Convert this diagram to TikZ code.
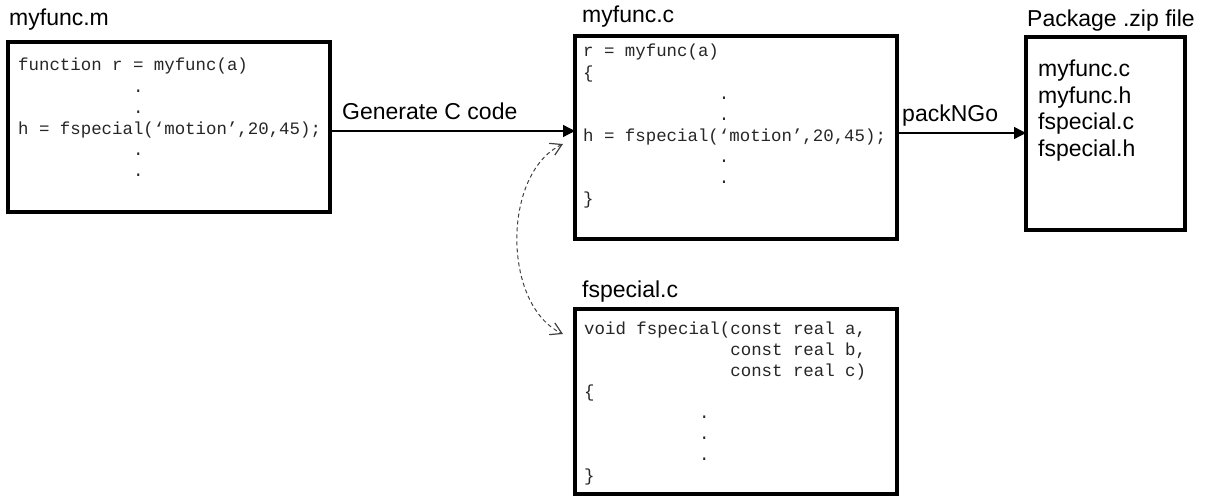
\documentclass[tikz,border=0pt]{standalone}
\usepackage{fontspec}
\setmainfont{Liberation Sans}
\newfontfamily\codefont{Liberation Mono}
\usetikzlibrary{arrows.meta}
\newcommand\codeblock[1]{\vtop{\codefont\fontsize{17.4}{21.1}\selectfont #1}}
\newcommand\listblock[1]{\vtop{\fontsize{23}{26.5}\selectfont #1}}
\newcommand\ind[1]{\hphantom{#1}}
\begin{document}
\begin{tikzpicture}[x=1pt,y=-1pt,
  filebox/.style={draw=black,line width=4pt,inner sep=0pt,outer sep=0pt,fill=white},
  title/.style={anchor=base west,inner sep=0pt,font=\fontsize{23}{26.5}\selectfont},
  codetext/.style={anchor=base west,inner sep=0pt,text=black!85},
  flow/.style={line width=1.3pt,-{Triangle[length=12pt,width=12pt]}},
  link/.style={draw=black!75,line width=1pt,dash pattern=on 4pt off 3pt,
     {Straight Barb[length=11pt,width=13pt,line width=1.2pt]}-{Straight Barb[length=11pt,width=13pt,line width=1.2pt]}}
]
\useasboundingbox (0,0) rectangle (1206,497);
% boxes
\node[filebox,minimum width=322pt,minimum height=170pt] (m) at (169,127) {};
\node[filebox,minimum width=322pt,minimum height=203pt] (c) at (736,137.5) {};
\node[filebox,minimum width=322pt,minimum height=185pt] (f) at (736,401.5) {};
\node[filebox,minimum width=159pt,minimum height=193pt] (z) at (1105.5,133.5) {};
% titles
\node[title] (tm) at (9,26) {myfunc.m};
\node[title] (tc) at (582,23) {myfunc.c};
\node[title] (tf) at (582,297) {fspecial.c};
\node[title] (tz) at (1027,27) {Package .zip file};
% code
\node[codetext] (cm) at (18,71) {\codeblock{%
\hbox{function r = myfunc(a)}
\hbox{\ind{00000000000}.}
\hbox{\ind{00000000000}.}
\hbox{h = fspecial(‘motion’,20,45);}
\hbox{\ind{00000000000}.}
\hbox{\ind{00000000000}.}}};
\node[codetext] (cc) at (583,57) {\codeblock{%
\hbox{r = myfunc(a)}
\hbox{\{}
\hbox{\ind{0000000000000}.}
\hbox{\ind{0000000000000}.}
\hbox{h = fspecial(‘motion’,20,45);}
\hbox{\ind{0000000000000}.}
\hbox{\ind{0000000000000}.}
\hbox{\}}}};
\node[codetext] (cf) at (584,334) {\codeblock{%
\hbox{void fspecial(const real a,}
\hbox{\ind{00000000000000}const real b,}
\hbox{\ind{00000000000000}const real c)}
\hbox{\{}
\hbox{\ind{00000000000}.}
\hbox{\ind{00000000000}.}
\hbox{\ind{00000000000}.}
\hbox{\}}}};
\node[anchor=base west,inner sep=0pt] (zl) at (1038,77)
  {\listblock{\hbox{myfunc.c}\hbox{myfunc.h}\hbox{fspecial.c}\hbox{fspecial.h}}};
% arrows
\coordinate (y1) at (0,131);
\coordinate (y2) at (0,133);
\draw[flow] (m.east |- y1) -- (c.west |- y1);
\draw[flow] (c.east |- y2) -- (z.west |- y2);
\node[title] (lg) at (342,120) {Generate C code};
\node[title] (lp) at (902,122) {packNGo};
% dashed link
\coordinate (dt) at (563,144);
\coordinate (db) at (563,334);
\draw[link] (dt) .. controls (502,173) and (502,305) .. (db);
\end{tikzpicture}
\end{document}
